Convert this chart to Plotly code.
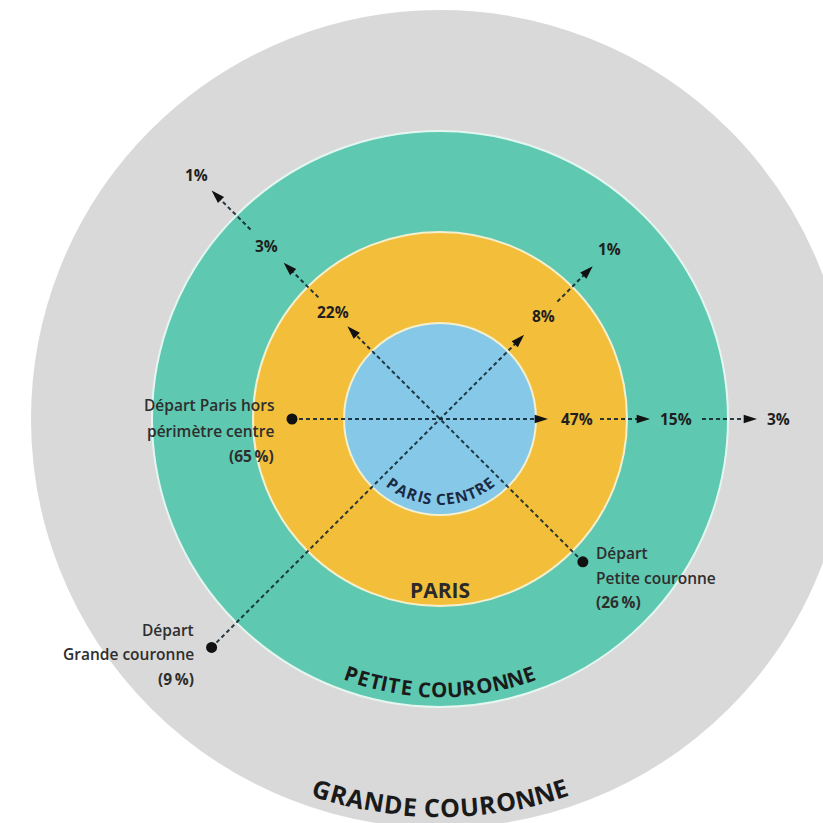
import math
import plotly.graph_objects as go

# ---------------- data ----------------
zones = ["PARIS CENTRE", "PARIS", "PETITE COURONNE", "GRANDE COURONNE"]
origin_names = ["Départ Paris hors<br>périmètre centre", "Départ<br>Petite couronne", "Départ<br>Grande couronne"]
origin_shares = [65, 26, 9]
flows_paris_hors = [47, 15, 3]
flows_petite_couronne = [22, 3, 1]
flows_grande_couronne = [8, 1]

# ---------------- geometry / style ----------------
W = H = 823
CX, CY = 440, 419
ring_radius = [96, 187, 288, 408]
ring_fill = ["#85c8e7", "#f3bf3b", "#5ec8b0", "#d9d9d9"]
ring_line = ["#f3efcf", "#f3efcf", "#e4f6f0", "#d9d9d9"]

# direction of travel (screen coords, y downwards)
s2 = 1 / math.sqrt(2)
directions = [(1, 0), (-s2, -s2), (s2, -s2)]
origin_dist = [148, 202, 323]
tip_dist = [[108, 210, 317], [131, 221, 323], [119, 216]]
label_dist = [[137, 236, 338], [151, 245, 345], [146, 240]]
restart_dist = [[160, 262], [172, 268], [166]]
flows = [flows_paris_hors, flows_petite_couronne, flows_grande_couronne]

FONT = "Open Sans"
DARK = "#1f1f1f"
LINE = "rgba(15,35,45,0.88)"

fig = go.Figure()

# rings
shapes = []
for r, fc, lc in sorted(zip(ring_radius, ring_fill, ring_line), reverse=True):
    shapes.append(dict(type="circle", xref="x", yref="y", layer="below",
                       x0=CX - r, x1=CX + r, y0=CY - r, y1=CY + r,
                       fillcolor=fc, line=dict(color=lc, width=2)))


def pt(d, k):
    ux, uy = directions[k]
    return CX + ux * d, CY + uy * d


annotations = []
for k, fl in enumerate(flows):
    starts = [-origin_dist[k]] + restart_dist[k]
    # dashed segments
    for a, b in zip(starts, tip_dist[k]):
        x0, y0 = pt(a, k)
        x1, y1 = pt(b - 6, k)
        fig.add_trace(go.Scatter(x=[x0, x1], y=[y0, y1], mode="lines",
                                 line=dict(color=LINE, width=2, dash="4px,3px"),
                                 hoverinfo="skip", showlegend=False))
    # arrowheads
    ux, uy = directions[k]
    ang = math.degrees(math.atan2(ux, -uy))
    xs, ys = zip(*[pt(d, k) for d in tip_dist[k]])
    fig.add_trace(go.Scatter(x=list(xs), y=list(ys), mode="markers",
                             marker=dict(symbol="arrow", size=14, angle=ang, color="#111111",
                                         line=dict(width=0)),
                             hoverinfo="skip", showlegend=False))
    # origin dot
    ox, oy = pt(-origin_dist[k], k)
    fig.add_trace(go.Scatter(x=[ox], y=[oy], mode="markers",
                             marker=dict(symbol="circle", size=11, color="#111111"),
                             hoverinfo="skip", showlegend=False))
    # percentage labels
    for v, d in zip(fl, label_dist[k]):
        lx, ly = pt(d, k)
        annotations.append(dict(x=lx, y=ly, xref="x", yref="y", text=f"<b>{v}%</b>",
                                showarrow=False, font=dict(family=FONT, size=15.5, color=DARK)))

# origin labels
origin_label_pos = [(276, [405, 431, 456], "right"), (594, [553, 578, 602], "left"),
                    (196, [630, 654, 679], "right")]
for name, share, (lx, lys, al) in zip(origin_names, origin_shares, origin_label_pos):
    texts = name.split("<br>") + [f"<b>({share}\u2009%)</b>"]
    for t, yy in zip(texts, lys):
        annotations.append(dict(x=lx, y=yy, xref="x", yref="y", text=t, showarrow=False,
                                xanchor=al, yanchor="middle",
                                font=dict(family=FONT, size=15.5, color="#2e2e2e", weight=600)))

# curved zone labels
CHW = {"P": 0.66, "A": 0.72, "R": 0.68, "I": 0.33, "S": 0.58, "C": 0.64, "E": 0.57,
       "N": 0.78, "T": 0.60, "O": 0.80, "U": 0.75, "G": 0.74, "D": 0.76, " ": 0.28}


def arc_text(text, R, size, color, track=1.0, offset_deg=0.0):
    widths = [CHW.get(c, 0.65) * size * track for c in text]
    total = sum(widths)
    s = -total / 2
    for c, w in zip(text, widths):
        mid = s + w / 2
        s += w
        phi = mid / R + math.radians(offset_deg)
        if c == " ":
            continue
        annotations.append(dict(x=CX + R * math.sin(phi), y=CY + R * math.cos(phi),
                                xref="x", yref="y", text=f"<b>{c}</b>", showarrow=False,
                                textangle=-math.degrees(phi), xanchor="center", yanchor="middle",
                                font=dict(family=FONT, size=size, color=color)))


arc_text(zones[0], 80, 15.5, "#1b2a44", track=1.02, offset_deg=0.5)
annotations.append(dict(x=CX, y=CY + 171, xref="x", yref="y", text=f"<b>{zones[1]}</b>",
                        showarrow=False, font=dict(family=FONT, size=21, color="#2a2a2a")))
arc_text(zones[2], 270, 20.5, "#1a1a1a", track=1.0)
arc_text(zones[3], 388, 25, "#1a1a1a", track=1.0)

fig.update_layout(
    width=W, height=H, margin=dict(l=0, r=0, t=0, b=0),
    paper_bgcolor="white", plot_bgcolor="white",
    xaxis=dict(range=[0, W], visible=False, fixedrange=True),
    yaxis=dict(range=[H, 0], visible=False, fixedrange=True),
    shapes=shapes, annotations=annotations, showlegend=False, hovermode=False,
)

fig.write_html("out.html", config={"displayModeBar": False},
               post_script="document.body.style.margin='0';")
